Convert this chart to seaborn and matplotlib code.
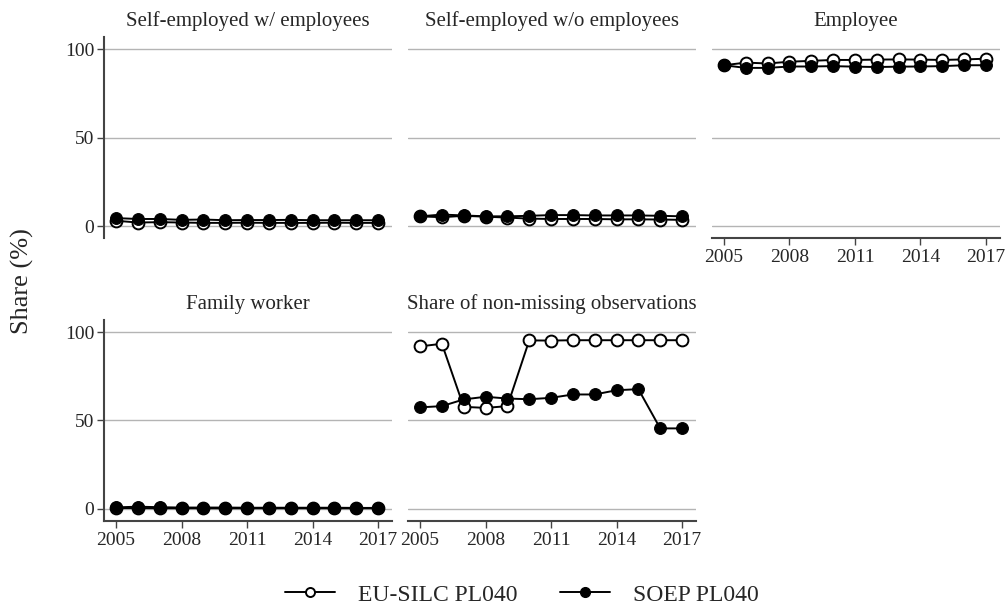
import pandas as pd
import matplotlib
matplotlib.use("Agg")
import matplotlib.pyplot as plt
from matplotlib.lines import Line2D
import seaborn as sns

years = list(range(2005, 2018))

titles = ["Self-employed w/ employees", "Self-employed w/o employees", "Employee",
          "Family worker", "Share of non-missing observations"]

# EU-SILC PL040 (open circles)
eu_selfemp_w = [3.0, 2.0, 2.2, 2.0, 1.8, 1.8, 1.9, 1.8, 1.8, 1.8, 1.9, 1.8, 1.8]
eu_selfemp_wo = [5.5, 5.0, 5.8, 5.3, 4.8, 4.2, 4.0, 4.0, 4.0, 3.8, 3.8, 3.7, 3.5]
eu_employee = [91.0, 92.5, 92.0, 93.0, 93.5, 94.0, 94.0, 94.2, 94.3, 94.2, 94.0, 94.3, 94.7]
eu_family = [0.4, 0.4, 0.3, 0.3, 0.3, 0.3, 0.3, 0.3, 0.3, 0.3, 0.3, 0.3, 0.3]
eu_nonmiss = [91.9, 93.4, 57.7, 57.1, 58.1, 95.3, 95.2, 95.4, 95.4, 95.4, 95.4, 95.4, 95.4]

# SOEP PL040 (filled circles)
soep_selfemp_w = [4.5, 4.0, 4.0, 3.5, 3.7, 3.3, 3.4, 3.4, 3.5, 3.3, 3.3, 3.3, 3.3]
soep_selfemp_wo = [5.5, 6.5, 6.0, 5.5, 5.5, 5.8, 6.2, 6.2, 6.0, 6.0, 6.0, 5.8, 5.5]
soep_employee = [91.0, 89.5, 89.5, 90.3, 90.3, 90.5, 90.2, 90.0, 90.2, 90.3, 90.5, 91.0, 91.0]
soep_family = [0.8, 1.2, 0.9, 0.7, 0.7, 0.7, 0.6, 0.6, 0.6, 0.6, 0.6, 0.5, 0.5]
soep_nonmiss = [57.4, 58.1, 61.9, 63.4, 62.4, 62.0, 62.8, 64.7, 64.7, 67.1, 67.7, 45.5, 45.5]

eu_series = [eu_selfemp_w, eu_selfemp_wo, eu_employee, eu_family, eu_nonmiss]
soep_series = [soep_selfemp_w, soep_selfemp_wo, soep_employee, soep_family, soep_nonmiss]

sns.set_theme(style="white")
plt.rcParams["font.family"] = ["Liberation Serif", "DejaVu Serif"]

fig = plt.figure(figsize=(10.08, 6.12), dpi=100)

lefts = [0.1032, 0.4048, 0.7063]
bottoms = [0.611, 0.149]
w, h = 0.2857, 0.328
grid_c = "#b4b4b4"
spine_c = "#444444"

for i, title in enumerate(titles):
    row, col = divmod(i, 3)
    ax = fig.add_axes([lefts[col], bottoms[row], w, h])
    df = pd.DataFrame({"year": years, "eu": eu_series[i], "soep": soep_series[i]})
    sns.lineplot(data=df, x="year", y="eu", ax=ax, color="black", lw=1.4,
                 marker="o", ms=8.5, mfc="white", mec="black", mew=1.4)
    sns.lineplot(data=df, x="year", y="soep", ax=ax, color="black", lw=1.4,
                 marker="o", ms=8.5, mfc="black", mec="black")
    ax.set_xlim(2004.45, 2017.64)
    ax.set_ylim(-6.8, 106.8)
    ax.set_yticks([0, 50, 100])
    ax.set_xticks([2005, 2008, 2011, 2014, 2017])
    for yv in [0, 50, 100]:
        ax.axhline(yv, color=grid_c, lw=1, zorder=0)
    ax.set_xlabel("")
    ax.set_ylabel("")
    ax.set_title(title, fontsize=15, pad=8)
    for s in ax.spines.values():
        s.set_visible(False)
    show_y = col == 0
    show_x = (row == 1) or (col == 2)
    if show_y:
        ax.spines["left"].set_visible(True)
        ax.spines["left"].set_color(spine_c)
        ax.spines["left"].set_linewidth(1.5)
    if show_x:
        ax.spines["bottom"].set_visible(True)
        ax.spines["bottom"].set_color(spine_c)
        ax.spines["bottom"].set_linewidth(1.5)
    ax.tick_params(axis="y", left=show_y, labelleft=show_y, direction="out",
                   length=5, width=1, color=spine_c, labelsize=14, pad=2)
    ax.tick_params(axis="x", bottom=show_x, labelbottom=show_x, direction="out",
                   length=5, width=1, color=spine_c, labelsize=14, pad=3)

fig.text(0.022, 0.541, "Share (%)", rotation=90, ha="center", va="center", fontsize=19)

handles = [
    Line2D([], [], color="black", lw=1.4, marker="o", ms=6.5, mfc="white", mec="black", mew=1.4),
    Line2D([], [], color="black", lw=1.4, marker="o", ms=7, mfc="black", mec="black"),
]
fig.legend(handles, ["EU-SILC PL040", "SOEP PL040"], loc="center",
           bbox_to_anchor=(0.518, 0.028), ncol=2, frameon=False, fontsize=17,
           handlelength=2.1, columnspacing=1.8, handletextpad=1.0,
           borderaxespad=0, borderpad=0)

fig.savefig("out.png", dpi=100, facecolor="white")
